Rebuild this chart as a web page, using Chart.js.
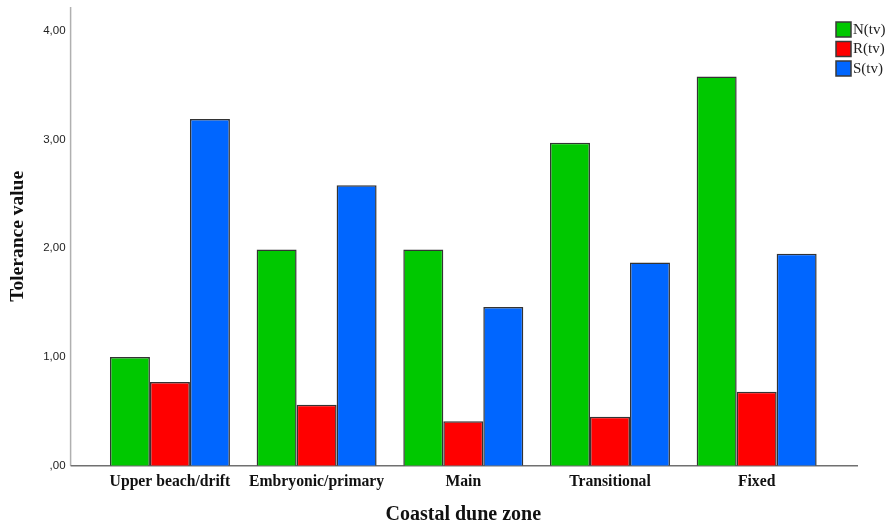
<!DOCTYPE html>
<html>
<head>
<meta charset="utf-8">
<script src="https://cdn.jsdelivr.net/npm/chart.js@4"></script>
<style>
  html, body { margin: 0; padding: 0; background: #fff; }
  #wrap { width: 888px; height: 527px; }
</style>
</head>
<body>
<div id="wrap"><canvas id="toleranceChart" width="888" height="527"></canvas></div>
<script>
const zones = ["Upper beach/drift", "Embryonic/primary", "Main", "Transitional", "Fixed"];
const nValues = [1.00, 1.99, 1.99, 2.97, 3.58];
const rValues = [0.77, 0.56, 0.41, 0.45, 0.68];
const sValues = [3.19, 2.58, 1.46, 1.87, 1.95];
const yTickLabels = [",00", "1,00", "2,00", "3,00", "4,00"];

// draws the SPSS style axis lines a bit wider than the bar area, plus the legend box
const frameAndLegend = {
    id: "frameAndLegend",
    beforeDatasetsDraw(chart) {
        const { ctx, chartArea } = chart;
        const left = chartArea.left - 26;
        const right = chartArea.right + 28;
        ctx.save();
        ctx.lineWidth = 1.5;
        ctx.strokeStyle = "#b0b0b0";
        ctx.beginPath();
        ctx.moveTo(left, chartArea.top);
        ctx.lineTo(left, chartArea.bottom);
        ctx.stroke();
        ctx.strokeStyle = "#707070";
        ctx.beginPath();
        ctx.moveTo(left, chartArea.bottom);
        ctx.lineTo(right, chartArea.bottom);
        ctx.stroke();
        ctx.restore();
    },
    afterDraw(chart) {
        const { ctx } = chart;
        ctx.save();
        ctx.font = "15px 'Liberation Serif'";
        ctx.textBaseline = "middle";
        chart.data.datasets.forEach((ds, i) => {
            const y = 22 + i * 19.5;
            ctx.fillStyle = ds.backgroundColor;
            ctx.fillRect(836, y, 15, 15);
            ctx.lineWidth = 1.5;
            ctx.strokeStyle = "#3a3a3a";
            ctx.strokeRect(836, y, 15, 15);
            ctx.fillStyle = "#222";
            ctx.fillText(ds.label, 853, y + 8);
        });
        ctx.restore();
    }
};

const ctx = document.getElementById("toleranceChart").getContext("2d");
new Chart(ctx, {
    type: "bar",
    data: {
        labels: zones,
        datasets: [
            { label: "N(tv)", data: nValues, backgroundColor: "#00c800" },
            { label: "R(tv)", data: rValues, backgroundColor: "#ff0000" },
            { label: "S(tv)", data: sValues, backgroundColor: "#0066ff" }
        ]
    },
    options: {
        responsive: false,
        animation: false,
        layout: { padding: { top: 7, right: 58, left: 0, bottom: 0 } },
        datasets: {
            bar: {
                categoryPercentage: 0.818,
                barPercentage: 1.0,
                borderColor: "#333",
                borderWidth: 1.5,
                borderSkipped: "bottom"
            }
        },
        plugins: {
            legend: { display: false },
            tooltip: { enabled: false }
        },
        scales: {
            x: {
                grid: { display: false, drawTicks: false },
                border: { display: false },
                ticks: {
                    padding: 7,
                    color: "#111",
                    font: { family: "'Liberation Serif'", size: 15.7, weight: "bold" }
                },
                title: {
                    display: true,
                    text: "Coastal dune zone",
                    color: "#111",
                    padding: { top: 0, bottom: 0 },
                    font: { family: "'Liberation Serif'", size: 20, weight: "bold" }
                },
                afterFit(scale) { scale.height = 61.3; }
            },
            y: {
                min: 0,
                max: 4.22,
                grid: { display: false, drawTicks: false },
                border: { display: false },
                ticks: {
                    stepSize: 1,
                    includeBounds: false,
                    padding: 31,
                    color: "#222",
                    font: { family: "'Liberation Sans'", size: 11.5 },
                    callback: (v, i) => yTickLabels[i]
                },
                title: {
                    display: true,
                    text: "Tolerance value",
                    color: "#111",
                    padding: { top: 6, bottom: 0 },
                    font: { family: "'Liberation Serif'", size: 19.5, weight: "bold" }
                },
                afterFit(scale) {
                    scale.width = 96.6;
                    scale.paddingTop = 0;
                    scale.paddingBottom = 0;
                }
            }
        }
    },
    plugins: [frameAndLegend]
});
</script>
</body>
</html>
